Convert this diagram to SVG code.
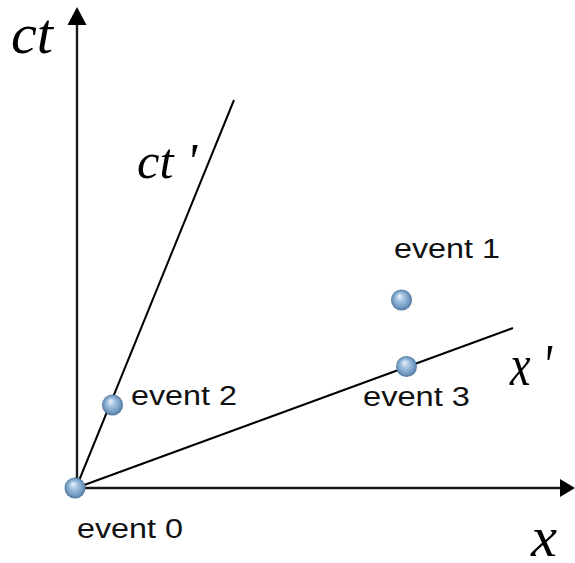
<svg xmlns="http://www.w3.org/2000/svg" width="575" height="563" viewBox="0 0 575 563">
<defs>
<radialGradient id="ball" cx="0.5" cy="0.5" r="0.5" fx="0.4" fy="0.3">
<stop offset="0" stop-color="#eef4fa"/>
<stop offset="0.35" stop-color="#a8c6e2"/>
<stop offset="0.8" stop-color="#7099c0"/>
<stop offset="1" stop-color="#4f769c"/>
</radialGradient>
<style>
.axis{stroke:#1a1a1a;stroke-width:2.4;fill:none}
.line{stroke:#000;stroke-width:2;fill:none}
.head{fill:#000}
.lbl{font-family:"Liberation Sans",Arial,sans-serif;font-size:27px;fill:#111}
.var{font-family:"Liberation Serif","Times New Roman",serif;font-style:italic;fill:#000}
.ball{fill:url(#ball)}
</style>
</defs>
<g id="connectors">
<line class="axis" x1="77" y1="490" x2="77" y2="24"/>
<path class="head" d="M77,7 L86.5,25 L67.5,25 Z"/>
<line class="axis" x1="75" y1="488" x2="561" y2="488"/>
<path class="head" d="M575,488 L560,479 L560,497 Z"/>
<line class="line" x1="76" y1="488" x2="234" y2="100"/>
<line class="line" x1="76" y1="488" x2="513" y2="328"/>
</g>
<g id="axis-ct"><text class="var" x="11" y="53" font-size="58" textLength="42" lengthAdjust="spacingAndGlyphs">ct</text></g>
<g id="axis-ctp"><text class="var" x="137" y="178" font-size="50" textLength="60" lengthAdjust="spacingAndGlyphs">ct '</text></g>
<g id="axis-xp"><text class="var" x="510" y="385" font-size="60" textLength="42" lengthAdjust="spacingAndGlyphs">x '</text></g>
<g id="axis-x"><text class="var" x="531" y="556" font-size="58" textLength="26" lengthAdjust="spacingAndGlyphs">x</text></g>
<g id="event0"><circle class="ball" cx="75" cy="488" r="10.5"/><text class="lbl" x="77" y="538" textLength="106" lengthAdjust="spacingAndGlyphs">event 0</text></g>
<g id="event1"><circle class="ball" cx="401.5" cy="300" r="10.5"/><text class="lbl" x="394" y="258" textLength="106" lengthAdjust="spacingAndGlyphs">event 1</text></g>
<g id="event2"><circle class="ball" cx="112.5" cy="405" r="10.5"/><text class="lbl" x="131" y="405" textLength="106" lengthAdjust="spacingAndGlyphs">event 2</text></g>
<g id="event3"><circle class="ball" cx="406.5" cy="366.5" r="10.5"/><text class="lbl" x="363" y="406" textLength="107" lengthAdjust="spacingAndGlyphs">event 3</text></g>
</svg>
